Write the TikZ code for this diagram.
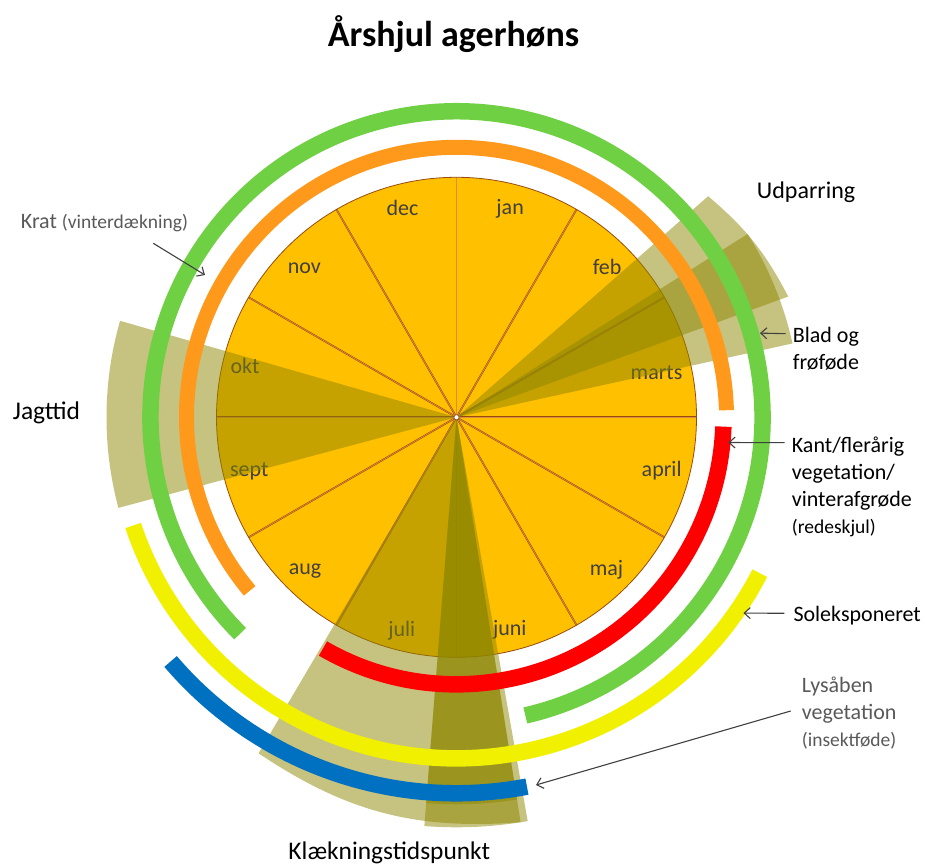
\documentclass[tikz,border=0pt]{standalone}
\usepackage{fontspec}
\setmainfont{Carlito}
\usepackage{tikz}
\usetikzlibrary{arrows.meta,calc}
\definecolor{piefill}{RGB}{255,192,0}
\definecolor{pieline}{RGB}{150,75,15}
\definecolor{pielinecore}{RGB}{225,140,60}
\definecolor{ringgreen}{RGB}{112,208,68}
\definecolor{ringorange}{RGB}{255,153,28}
\definecolor{ringyellow}{RGB}{240,240,0}
\definecolor{ringblue}{RGB}{0,112,192}
\definecolor{labelgrey}{RGB}{64,64,64}
\definecolor{notegrey}{RGB}{89,89,89}
\newcommand{\fsz}[1]{\fontsize{#1}{#1}\selectfont}

\begin{document}
\begin{tikzpicture}[x=1pt,y=1pt,
        ring/.style={line width=16.5pt},
        season/.style={fill=olive,fill opacity=0.5},
        month/.style={text=labelgrey,font=\fsz{22}},
        note/.style={inner sep=0pt,align=left,font=\fontsize{22}{27}\selectfont},
        pointer/.style={draw=labelgrey,line width=1.1pt,-{Straight Barb[length=6pt,width=11pt]}}]
        \useasboundingbox (-456.5,-448.7) rectangle (468.5,417.3);

        \fill[piefill] (0,0) circle (240);
        \foreach \a in {0,30,...,330}
                \draw[pieline,double=pielinecore,double distance=0.7pt,line width=0.5pt] (0,0) -- (\a:240);
        \draw[pieline,line width=0.8pt] (0,0) circle (240);

        \foreach \m/\a/\r in {jan/75.6/215.7, feb/45/213, marts/12.6/205, april/-14.6/212,
                maj/-45.5/214, juni/-75.9/219, juli/-104.4/220, aug/-134.5/216,
                sept/-165.5/214, okt/166.3/217.7, nov/135.6/213, dec/104.5/216}
                \node[month] (\m) at (\a:\r) {\m};

        \fill[season] (0,0) -- (164:350) arc[start angle=164,end angle=195,radius=350] -- cycle;
        \fill[season] (0,0) -- (20:353) to[bend right=11] (41.3:335) -- cycle;
        \fill[season] (0,0) -- (12.4:344) arc[start angle=12.4,end angle=32.2,radius=344] -- cycle;
        \fill[season] (0,0) -- (-120.5:390) to[bend right=19] (-81:410) -- cycle;
        \fill[season] (0,0) -- (-94.5:387) arc[start angle=-94.5,end angle=-81,radius=387] -- cycle;
        \fill[season] (0,0) -- (-94.5:410) arc[start angle=-94.5,end angle=-80,radius=410] -- cycle;

        \draw[ring,ringorange,line width=15pt] (1.5:270) arc[start angle=1.5,end angle=220,radius=270];
        \draw[ring,red] (-120:267) arc[start angle=-120,end angle=-2,radius=267];
        \draw[ring,ringgreen] (-77:306) arc[start angle=-77,end angle=225,radius=306];
        \draw[ring,ringyellow] (198.5:341) arc[start angle=198.5,end angle=332.8,radius=341];
        \draw[ring,ringblue] (220.5:376) arc[start angle=220.5,end angle=280.8,radius=376];

        \filldraw[fill=white,draw=pieline,line width=0.5pt] (0,0) circle (2.5);

        \node[anchor=base,font=\bfseries\fsz{36}] (title) at (-3,370.6) {Årshjul agerhøns};
        \node[note,anchor=base west,font=\fsz{24}] (udparring) at (300.2,218.8) {Udparring};
        \node[note,anchor=north west] (blad) at (336.2,90.6) {Blad og\\frøføde};
        \node[note,anchor=north west] (kant) at (335.2,-19.4)
                {Kant/flerårig\\vegetation/\\vinterafgrøde\\{\fsz{19.5}(redeskjul)}};
        \node[note,anchor=base west] (sol) at (336.8,-203.7) {Soleksponeret};
        \node[note,anchor=north west,text=notegrey] (lys) at (345.2,-259.4)
                {Lysåben\\vegetation\\{\fsz{19.5}(insektføde)}};
        \node[note,anchor=base west,text=notegrey] (krat) at (-435.8,188.3)
                {Krat {\fsz{19.5}(vinterdækning)}};
        \node[note,anchor=base west,font=\fsz{25.5}] (jagt) at (-443.8,-2.2) {Jagttid};
        \node[note,anchor=base west,font=\fsz{25.4}] (klaek) at (-168.2,-442.2) {Klækningstidspunkt};

        \coordinate (krattip) at (150.5:289);
        \coordinate (bladtip) at (15.5:315);
        \coordinate (kanttip) at (-5.3:273);
        \coordinate (soltip) at (-34.3:347.4);
        \coordinate (lystip) at (-77.8:376.2);

        \draw[pointer] ($(krat.base west)+(132.6,-14.3)$) -- (krattip);
        \draw[pointer] ($(blad.north west)+(-7,-7)$) -- (bladtip);
        \draw[pointer] ($(kant.north west)+(-7,-6)$) -- (kanttip);
        \draw[pointer] ($(sol.base west)+(-9,7.7)$) -- (soltip);
        \draw[pointer] ($(lys.north west)+(-11,-34.3)$) -- (lystip);
\end{tikzpicture}
\end{document}
